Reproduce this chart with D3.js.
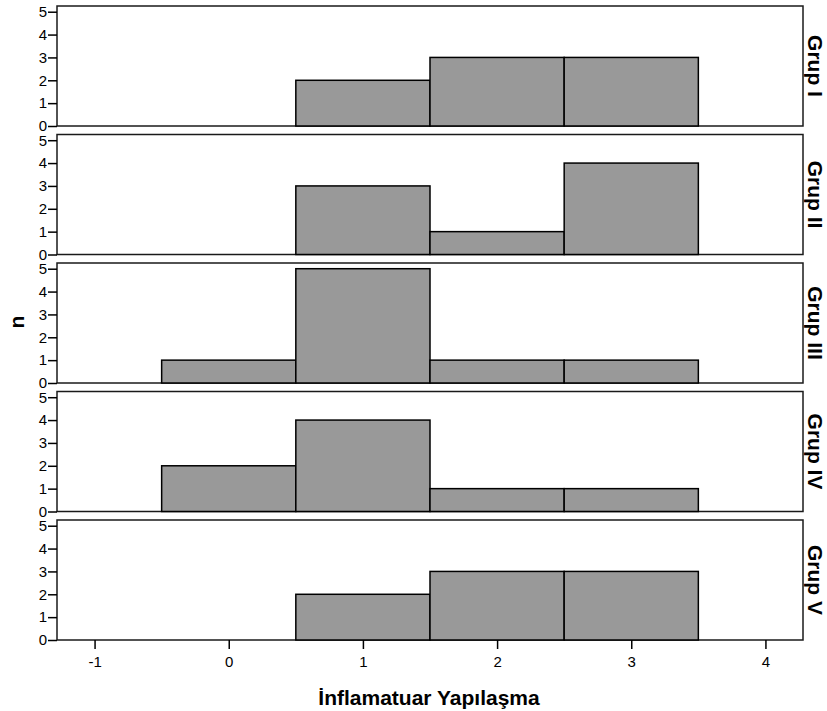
<!DOCTYPE html>
<html>
<head>
<meta charset="utf-8">
<script src="https://cdn.jsdelivr.net/npm/d3@7"></script>
<style>
  body { margin: 0; background: #fff; }
  svg { display: block; }
  text { font-family: "Liberation Sans", Arial, sans-serif; fill: #000; }
</style>
</head>
<body>
<script>
// Histogram of "İnflamatuar Yapılaşma" scores, one panel per group
const groups = ["Grup I", "Grup II", "Grup III", "Grup IV", "Grup V"];
const binCenters = [0, 1, 2, 3];
const counts = [
  [0, 2, 3, 3],   // Grup I
  [0, 3, 1, 4],   // Grup II
  [1, 5, 1, 1],   // Grup III
  [2, 4, 1, 1],   // Grup IV
  [0, 2, 3, 3]    // Grup V
];
const xTicks = [-1, 0, 1, 2, 3, 4];
const yTicks = [0, 1, 2, 3, 4, 5];
const xTitle = "İnflamatuar Yapılaşma";
const yTitle = "n";

const W = 827, H = 711;
const left = 57, right = 803;
const top0 = 6, panelH = 120, step = 128.5;

const svg = d3.select("body").append("svg")
  .attr("width", W).attr("height", H);

const x = d3.scaleLinear().domain([-1.28, 4.28]).range([left, right]);
const y = d3.scaleLinear().domain([0, 5.25]).range([panelH, 0]);
const fmt = d => String(d); // plain hyphen for negatives

groups.forEach((g, i) => {
  const panel = svg.append("g").attr("transform", `translate(0,${top0 + i * step})`);

  // frame
  panel.append("rect")
    .attr("x", left).attr("y", 0)
    .attr("width", right - left).attr("height", panelH)
    .attr("fill", "#fff").attr("stroke", "#1a1a1a").attr("stroke-width", 1.5);

  // bars
  const data = binCenters.map((c, j) => ({ c, n: counts[i][j] })).filter(d => d.n > 0);
  panel.selectAll("rect.bar").data(data).enter().append("rect")
    .attr("class", "bar")
    .attr("x", d => x(d.c - 0.5))
    .attr("width", d => x(d.c + 0.5) - x(d.c - 0.5))
    .attr("y", d => y(d.n))
    .attr("height", d => y(0) - y(d.n))
    .attr("fill", "#999999").attr("stroke", "#000").attr("stroke-width", 1.5);

  // y axis
  const ya = panel.append("g").attr("transform", `translate(${left},0)`)
    .call(d3.axisLeft(y).tickValues(yTicks).tickFormat(fmt).tickSize(9).tickPadding(1));
  ya.select(".domain").remove();
  ya.selectAll(".tick line").attr("stroke", "#000").attr("stroke-width", 1.5);
  ya.selectAll(".tick text").style("font-size", "15px").attr("fill", "#000");

  // group label on the right, reading downward
  panel.append("text")
    .attr("transform", `translate(808,${panelH / 2}) rotate(90)`)
    .attr("text-anchor", "middle")
    .style("font-size", "21px").style("font-weight", "bold")
    .text(g);
});

// x axis under the last panel
const bottom = top0 + 4 * step + panelH;
const xa = svg.append("g").attr("transform", `translate(0,${bottom})`)
  .call(d3.axisBottom(x).tickValues(xTicks).tickFormat(fmt).tickSize(9).tickPadding(7));
xa.select(".domain").remove();
xa.selectAll(".tick line").attr("stroke", "#000").attr("stroke-width", 1.5);
xa.selectAll(".tick text").style("font-size", "15px").attr("fill", "#000");

svg.append("text")
  .attr("x", 429).attr("y", 705)
  .attr("text-anchor", "middle")
  .style("font-size", "21px").style("font-weight", "bold")
  .text(xTitle);

svg.append("text")
  .attr("transform", `translate(24,322) rotate(-90)`)
  .attr("text-anchor", "middle")
  .style("font-size", "21px").style("font-weight", "bold")
  .text(yTitle);
</script>
</body>
</html>
